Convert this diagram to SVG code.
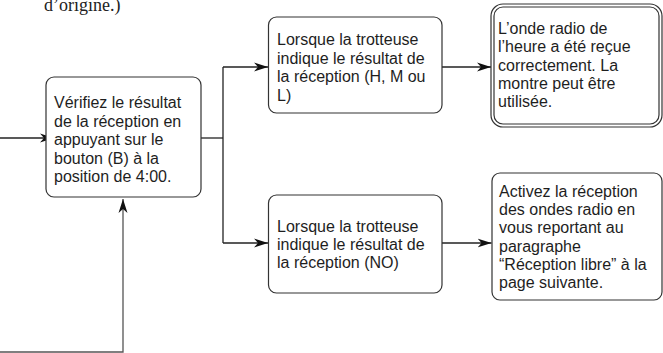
<svg xmlns="http://www.w3.org/2000/svg" width="663" height="353" viewBox="0 0 663 353">
<defs>
<style>
.box{fill:#fff;stroke:#333;stroke-width:1.2}
.t{font-family:"Liberation Sans",Arial,sans-serif;font-size:16px;fill:#1e1e1e}
.ln{fill:none;stroke:#222;stroke-width:1.3}
.ln2{fill:none;stroke:#555;stroke-width:1.3}
</style>
<marker id="ah" markerUnits="userSpaceOnUse" markerWidth="15" markerHeight="10" refX="14" refY="5" orient="auto">
<path d="M0,0.5 L14,5 L0,9.5 L4,5 Z" fill="#111"/>
</marker>
</defs>
<rect width="663" height="353" fill="#fff"/>
<text x="44" y="11" font-family="'Liberation Serif','Times New Roman',serif" font-size="18" fill="#222">d’origine.)</text>
<g id="connectors">
<path class="ln" d="M0,138 H54" marker-end="url(#ah)"/>
<path class="ln" d="M201,138 H223"/>
<path class="ln" d="M223,67 V243"/>
<path class="ln" d="M223,67 H268" marker-end="url(#ah)"/>
<path class="ln" d="M223,243 H268" marker-end="url(#ah)"/>
<path class="ln" d="M442,67 H491" marker-end="url(#ah)"/>
<path class="ln" d="M442,243 H491.5" marker-end="url(#ah)"/>
<path class="ln2" d="M0,352 H123 V199" marker-end="url(#ah)"/>
</g>
<g id="verify">
<rect class="box" x="46" y="77" width="155" height="120" rx="8"/>
<text class="t"><tspan x="54" y="108">Vérifiez le résultat</tspan><tspan x="54" y="126.5">de la réception en</tspan><tspan x="54" y="145">appuyant sur le</tspan><tspan x="54" y="163.5">bouton (B) à la</tspan><tspan x="54" y="182">position de 4:00.</tspan></text>
</g>
<g id="hml">
<rect class="box" x="268.5" y="17" width="173.5" height="96" rx="8"/>
<text class="t"><tspan x="277" y="45">Lorsque la trotteuse</tspan><tspan x="277" y="63.5">indique le résultat de</tspan><tspan x="277" y="82">la réception (H, M ou</tspan><tspan x="277" y="100.5">L)</tspan></text>
</g>
<g id="ok">
<rect class="box" x="491" y="4" width="171" height="123" rx="12"/>
<rect class="box" x="494" y="7" width="165" height="117" rx="9"/>
<text class="t"><tspan x="498" y="34">L’onde radio de</tspan><tspan x="498" y="52.3">l’heure a été reçue</tspan><tspan x="498" y="70.6">correctement. La</tspan><tspan x="498" y="88.9">montre peut être</tspan><tspan x="498" y="107.2">utilisée.</tspan></text>
</g>
<g id="no">
<rect class="box" x="268.5" y="195" width="173.5" height="98" rx="8"/>
<text class="t"><tspan x="277" y="231.7">Lorsque la trotteuse</tspan><tspan x="277" y="250">indique le résultat de</tspan><tspan x="277" y="268.3">la réception (NO)</tspan></text>
</g>
<g id="free">
<rect class="box" x="492" y="173" width="170" height="127" rx="8"/>
<text class="t"><tspan x="499" y="197">Activez la réception</tspan><tspan x="499" y="215.2">des ondes radio en</tspan><tspan x="499" y="233.4">vous reportant au</tspan><tspan x="499" y="251.6">paragraphe</tspan><tspan x="499" y="269.8">“Réception libre” à la</tspan><tspan x="499" y="288">page suivante.</tspan></text>
</g>
</svg>
